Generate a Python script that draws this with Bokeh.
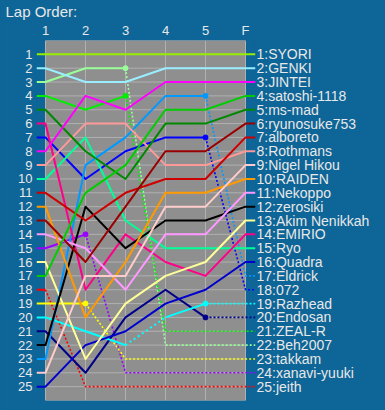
from bokeh.plotting import figure
from bokeh.models import Range1d, LinearAxis, FixedTicker
from bokeh.embed import file_html
from bokeh.resources import INLINE

# ---- data ----
laps = [1, 2, 3, 4, 5, 6]
lap_labels = ["1", "2", "3", "4", "5", "F"]
drivers = ["SYORI", "GENKI", "JINTEI", "satoshi-1118", "ms-mad", "ryunosuke753",
           "alboreto", "Rothmans", "Nigel Hikou", "RAIDEN", "Nekoppo", "zerosiki",
           "Akim Nenikkah", "EMIRIO", "Ryo", "Quadra", "Eldrick", "072", "Razhead",
           "Endosan", "ZEAL-R", "Beh2007", "takkam", "xanavi-yuuki", "jeith"]
colors = ["#99ee00", "#99eeff", "#ff00ff", "#00cc00", "#008800", "#990000",
          "#cc0000", "#ff9999", "#ffcccc", "#ff9900", "#ff99ff", "#000000",
          "#ffff99", "#ff0088", "#00ff99", "#0000cc", "#0099ff", "#0000ff", "#00ffff",
          "#000088", "#00ee00", "#99ff99", "#ffff00", "#9900ff", "#ff0000"]
pos_lap1 = [1, 2, 8, 17, 5, 13, 11, 9, 24, 12, 14, 22, 16, 6, 10, 25, 23, 7, 20, 21, 4, 3, 19, 15, 18]
pos_lap2 = [1, 3, 4, 11, 8, 16, 13, 6, 17, 20, 15, 12, 23, 18, 7, 22, 9, 10, 21, 24, 5, 2, 19, 14, 25]
pos_lap3 = [1, 3, 5, 9, 10, 12, 11, 6, 17, 16, 18, 15, 19, 14, 13, 21, 7, 8, 22, 20, 4, 2, 23, 24, 25]
pos_lap4 = [1, 2, 3, 5, 6, 8, 10, 9, 12, 11, 14, 13, 17, 16, 15, 19, 4, 7, 20, 18, 21, 22, 23, 24, 25]
pos_lap5 = [1, 2, 3, 5, 6, 8, 10, 9, 12, 11, 14, 13, 16, 17, 15, 18, 4, 7, 19, 20, 21, 22, 23, 24, 25]
pos_final = list(range(1, 26))
# last lap run (lap number); after it the line is dashed
last_lap = [6] * 16 + [5, 5, 5, 5, 3, 3, 2, 2, 1]
# lap after which a single dotted segment appears (0 = none)
dotted_after = [0] * 18 + [3] + [0] * 6

BG = "#0e6597"
PLOT_BG = "#8f8f8f"
GRID = "#b0b0b0"
TXT = "#e8e8e8"
FONT = "Liberation Sans"

X_LEFT, X_RIGHT = 0.775, 6.25

p = figure(width=385, height=410, output_backend="svg", toolbar_location=None,
           x_range=Range1d(X_LEFT, X_RIGHT), y_range=Range1d(26, 0),
           x_axis_location="above", y_axis_location="left",
           min_border_left=36, min_border_right=130, min_border_top=36, min_border_bottom=10,
           background_fill_color=BG, border_fill_color=BG, outline_line_color=None)
p.grid.visible = False

p.title.text = "Lap Order:"
p.title.text_color = TXT
p.title.text_font = FONT
p.title.text_font_size = "15px"
p.title.text_font_style = "normal"
p.title.align = "left"
p.title.offset = -31
p.title.standoff = 0

# plot area and grid
p.quad(left=laps[0], right=laps[-1], bottom=26, top=0, fill_color=PLOT_BG, line_color=None)
p.segment(x0=[laps[0]] * 27, x1=[laps[-1]] * 27, y0=list(range(27)), y1=list(range(27)),
          line_color=GRID, line_width=1)
p.segment(x0=laps, x1=laps, y0=[0] * 6, y1=[26] * 6, line_color=GRID, line_width=1)

for i in reversed(range(len(drivers))):
    ps = [pos_lap1[i], pos_lap2[i], pos_lap3[i], pos_lap4[i], pos_lap5[i], pos_final[i]]
    c = colors[i]
    k = last_lap[i]
    xs = [X_LEFT] + laps[:k]
    ys = [ps[0]] + ps[:k]
    if k == 6:
        xs = xs + [X_RIGHT]
        ys = ys + [ps[5]]
    g = dotted_after[i]
    if g:
        p.line(xs[:g + 1], ys[:g + 1], line_color=c, line_width=2)
        p.line(xs[g:g + 2], ys[g:g + 2], line_color=c, line_width=2, line_dash="2 3")
        p.line(xs[g + 1:], ys[g + 1:], line_color=c, line_width=2)
    else:
        p.line(xs, ys, line_color=c, line_width=2, line_join="round")
    if k < 6:
        dx = laps[k - 1:] + [X_RIGHT]
        dy = ps[k - 1:] + [ps[5]]
        p.line(dx, dy, line_color=c, line_width=1.6, line_dash="2 2")
        if k > 1:
            p.scatter([laps[k - 1]], [ps[k - 1]], size=5, fill_color=c, line_color=c)

# axes
p.xaxis.ticker = FixedTicker(ticks=laps)
p.xaxis.major_label_overrides = {l: s for l, s in zip(laps, lap_labels)}
p.yaxis.ticker = FixedTicker(ticks=pos_final)

right = LinearAxis(ticker=FixedTicker(ticks=pos_final),
                   major_label_overrides={pos: f"{pos}:{name}" for pos, name in zip(pos_final, drivers)})
p.add_layout(right, "right")

for ax, size, standoff in ((p.xaxis[0], "13px", 3), (p.yaxis[0], "13px", 4), (right, "14px", 1)):
    ax.axis_line_color = None
    ax.major_tick_line_color = None
    ax.minor_tick_line_color = None
    ax.major_tick_out = 0
    ax.major_tick_in = 0
    ax.minor_tick_out = 0
    ax.minor_tick_in = 0
    ax.major_label_text_color = TXT
    ax.major_label_text_font = FONT
    ax.major_label_text_font_size = size
    ax.major_label_standoff = standoff

html = file_html(p, INLINE)
html = html.replace("</head>", "<style>body{margin:0;background:%s;}</style></head>" % BG, 1)
open("out.html", "w").write(html)
